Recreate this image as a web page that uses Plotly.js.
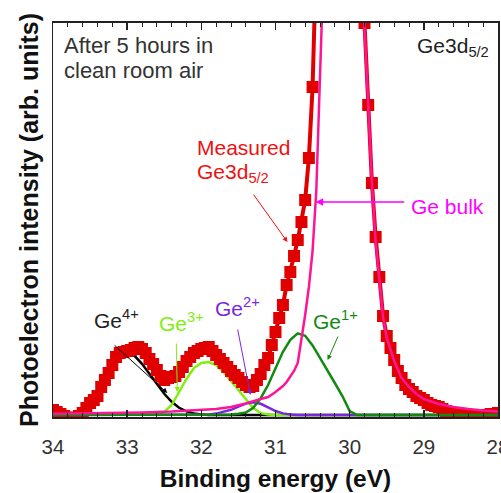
<!DOCTYPE html>
<html>
<head>
<meta charset="utf-8">
<script src="https://cdn.plot.ly/plotly-3.0.1.min.js"></script>
<style>html,body{margin:0;padding:0;background:#fff;overflow:hidden;}#chart{width:501px;height:493px;}</style>
</head>
<body>
<div id="chart"></div>
<script>
// Measured Ge3d5/2 spectrum (binding energy, eV) and intensity (arb. units)
const measE = [34.00,33.95,33.90,33.85,33.80,33.75,33.70,33.65,33.60,33.55,33.50,33.45,33.40,33.35,33.30,33.25,33.20,33.15,33.10,33.05,
33.00,32.95,32.90,32.85,32.80,32.75,32.70,32.65,32.60,32.55,32.50,32.45,32.40,32.35,32.30,32.25,32.20,32.15,32.10,32.05,
32.00,31.95,31.90,31.85,31.80,31.75,31.70,31.65,31.60,31.55,31.50,31.45,31.40,31.35,31.30,31.25,31.20,31.15,31.10,31.05,
31.00,30.95,30.90,30.85,30.80,30.75,30.70,30.65,30.60,30.55,30.50,30.45,30.40,30.35,30.30,30.25,30.20,30.15,30.10,30.05,
30.00,29.95,29.90,29.85,29.80,29.75,29.70,29.65,29.60,29.55,29.50,29.45,29.40,29.35,29.30,29.25,29.20,29.15,29.10,29.05,
29.00,28.95,28.90,28.85,28.80,28.75,28.70,28.65,28.60,28.55,28.50,28.45,28.40,28.35,28.30,28.25,28.20,28.15,28.10,28.05,28.00];
const measI = [1.25,0.75,0.25,-0.25,-0.6,-1.1,-1.0,-0.25,0.5,1.75,3.0,3.75,4.75,7.0,8.75,10.5,12.5,14.5,15.5,15.75,
16.0,16.25,16.75,17.0,16.5,15.5,14.0,12.75,11.25,9.75,8.75,9.25,9.5,9.75,10.75,12.0,13.5,14.5,15.5,16.0,
16.5,16.75,17.0,16.0,15.0,14.0,13.0,12.0,11.0,10.0,9.25,8.25,7.5,7.0,7.25,8.75,10.25,12.5,14.25,17.5,
20.75,24.25,27.5,32.5,35.75,39.75,43.75,48.25,53.75,64.25,82.0,115,150,190,225,250,265,270,268,255,
232,200,160,125,98,77.5,58,44.5,34.5,24.75,19.75,16.75,13.75,11.0,9.25,7.5,6.5,5.75,4.75,4.25,
3.75,3.0,2.5,2.25,2.0,1.5,1.0,0.75,0.5,0.0,0.0,-0.25,-0.5,-0.5,-0.25,-0.25,0.0,0.0,0.25,0.25,0.5];

// Fitted components
const ge4E = [34.0,33.9,33.8,33.7,33.6,33.5,33.4,33.3,33.2,33.1,33.0,32.9,32.8,32.7,32.6,32.5,32.4,32.3,32.2,32.1,32.0,31.9,28.0];
const ge4I = [0,0,0.1,0.4,1.0,2.5,5.0,8.0,11.5,14.3,15.5,14.8,12.8,10.3,7.8,5.3,3.3,1.8,0.9,0.4,0.1,0,0];

const ge3E = [34.0,32.7,32.6,32.5,32.4,32.3,32.2,32.1,32.0,31.9,31.8,31.7,31.6,31.5,31.4,31.3,31.2,31.1,31.0,28.0];
const ge3I = [0,0,0.1,0.75,2.5,5.75,9.0,11.75,13.0,13.25,12.5,10.75,8.5,6.0,3.75,1.75,0.5,0.1,0,0];

const ge2E = [34.0,32.1,32.0,31.9,31.8,31.7,31.6,31.5,31.4,31.3,31.2,31.1,31.0,30.9,30.8,30.7,28.0];
const ge2I = [0,0,0.05,0.15,0.35,0.75,1.3,2.1,2.85,3.2,2.8,1.9,1.0,0.4,0.1,0,0];

const ge1E = [34.0,31.7,31.6,31.5,31.4,31.3,31.2,31.1,31.0,30.9,30.8,30.7,30.6,30.5,30.4,30.3,30.2,30.1,30.05,30.0,29.9,28.0];
const ge1I = [0,0,0.1,0.3,0.6,1.8,4.2,7.5,11.7,15.8,18.8,20.4,19.8,17.4,14.3,11.0,8.0,4.8,2.8,1.0,0,0];

const bulkE = [34.0,33.6,33.2,32.8,32.4,32.0,31.8,31.6,31.4,31.2,31.1,31.0,30.95,30.9,30.85,30.8,30.75,30.7,30.65,30.6,30.55,30.5,30.45,30.4,
30.35,30.3,30.25,30.2,30.15,30.1,30.05,30.0,29.95,29.9,29.85,29.8,29.75,29.7,29.65,29.6,29.55,29.5,29.4,29.3,29.2,29.1,29.0,28.8,28.6,28.4,28.2,28.0];
const bulkI = [0.3,0.35,0.45,0.6,0.85,1.2,1.5,2.0,2.9,4.0,4.5,5.75,6.4,7.25,8.25,9.5,11.0,13.0,18.5,25.0,32.0,41.0,56.0,85.0,
118,155,192,225,248,256,248,225,190,152,120,97,77,58,43.5,33.5,24.5,19.25,13.5,9.25,7.0,5.25,4.0,2.75,2.0,1.5,1.1,0.9];

// Axis ticks
const xTickVals = [34,33,32,31,30,29,28];
const xTickText = ['34','33','32','31','30','29','28'];

const FONT = 'Liberation Sans, Arial, sans-serif';
const C = {meas:'#e00000', bulk:'#ff1496', bulkTxt:'#ff00ff', g1:'#128a12', g2:'#7a28e0', g3:'#80ee10', g4:'#000000', txt:'#333333'};

const traces = [
  {x: ge4E, y: ge4I, mode:'lines', line:{color:C.g4, width:2.5}, name:'Ge4+'},
  {x: ge3E, y: ge3I, mode:'lines', line:{color:C.g3, width:2.5}, name:'Ge3+'},
  {x: ge2E, y: ge2I, mode:'lines', line:{color:C.g2, width:2.5}, name:'Ge2+'},
  {x: measE, y: measI, mode:'lines+markers', line:{color:C.meas, width:4}, marker:{symbol:'square', size:12, color:C.meas}, name:'Measured'},
  {x: ge1E, y: ge1I, mode:'lines', line:{color:C.g1, width:2.5}, name:'Ge1+'},
  {x: bulkE, y: bulkI, mode:'lines', line:{color:C.bulk, width:2.5}, name:'Ge bulk'}
];

function lbl(text, x, y, color, xanchor, size){
  return {text:text, x:x, y:y, xref:'x', yref:'y', showarrow:false, xanchor:xanchor||'left', yanchor:'middle',
          font:{family:FONT, size:size||21, color:color}, align:'left'};
}
function arr(x0, y0, x1, y1, color, head, w){
  return {text:'', x:x1, y:y1, ax:x0, ay:y0, xref:'x', yref:'y', axref:'x', ayref:'y', showarrow:true,
          arrowhead:head, arrowsize:1, arrowwidth:w||1, arrowcolor:color, standoff:0, startstandoff:0};
}

const annotations = [
  lbl('After 5 hours in', 33.878, 92.5, C.txt, 'left', 22),
  lbl('clean room air', 33.878, 86.25, C.txt, 'left', 22),
  lbl('Ge3d<sub>5/2</sub>', 28.095, 92.1, '#222222', 'right', 21),
  lbl('Measured', 32.081, 67.0, '#ee1111', 'left', 21),
  lbl('Ge3d<sub>5/2</sub>', 32.081, 60.5, '#ee1111', 'left', 21),
  lbl('Ge bulk', 29.203, 52.25, C.bulkTxt, 'left', 21),
  lbl('Ge<sup>4+</sup>', 33.473, 24.0, '#222222', 'left', 21),
  lbl('Ge<sup>3+</sup>', 32.595, 23.25, C.g3, 'left', 21),
  lbl('Ge<sup>2+</sup>', 31.838, 27.0, C.g2, 'left', 21),
  lbl('Ge<sup>1+</sup>', 30.527, 23.75, C.g1, 'left', 21),
  arr(31.311, 55.5, 30.838, 43.25, '#ee1111', 2, 1),
  arr(29.243, 53.25, 30.459, 53.25, C.bulkTxt, 2, 1.5),
  arr(33.189, 17.75, 32.459, 5.5, '#000000', 2, 1),
  arr(32.338, 18.25, 32.324, 5.75, C.g3, 2, 1),
  arr(31.514, 21.75, 31.338, 5.0, C.g2, 2, 1),
  arr(30.149, 20.0, 30.297, 13.75, C.g1, 2, 1)
];

const layout = {
  width:501, height:493,
  margin:{l:53, r:3, t:23, b:76, pad:0},
  paper_bgcolor:'#ffffff', plot_bgcolor:'#ffffff',
  showlegend:false,
  font:{family:FONT, color:C.txt},
  xaxis:{
    range:[34,28], tickvals:xTickVals, ticktext:xTickText,
    ticks:'inside', ticklen:7, tickwidth:1.5, tickcolor:'#222',
    minor:{dtick:0.2, tick0:0, ticks:'inside', ticklen:4, tickwidth:1, tickcolor:'#222'},
    showline:true, linecolor:'#222', linewidth:2, mirror:'ticks',
    showgrid:false, zeroline:false,
    tickfont:{family:FONT, size:20.5, color:'#333'},
    ticklabelstandoff:10, ticklabeloverflow:'allow',
    title:{text:'<b>Binding energy (eV)</b>', font:{family:FONT, size:24.5, color:'#111'}, standoff:13}
  },
  yaxis:{
    range:[-0.5,98], showticklabels:false, ticks:'',
    showline:true, linecolor:'#222', linewidth:1.5, mirror:true,
    showgrid:false, zeroline:false,
    title:{text:'<b>Photoelectron intensity (arb. units)</b>', font:{family:FONT, size:25, color:'#111'}, standoff:6}
  },
  annotations:annotations
};

Plotly.newPlot('chart', traces, layout, {staticPlot:true, displayModeBar:false});
</script>
</body>
</html>
